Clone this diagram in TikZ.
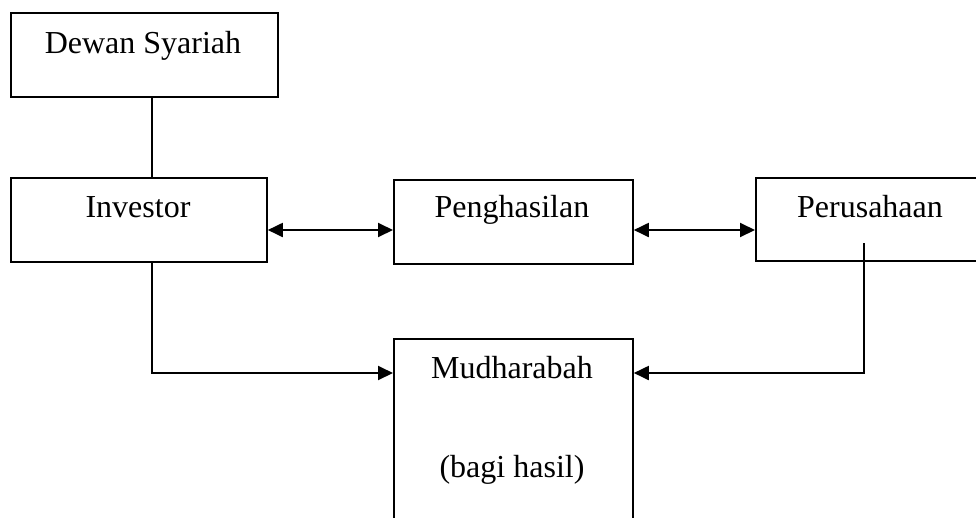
\documentclass[tikz,border=0pt]{standalone}
\usepackage{fontspec}
\setmainfont{Liberation Serif}
\usetikzlibrary{arrows.meta}
\begin{document}
\begin{tikzpicture}[x=1pt,y=-1pt,
  box/.style={draw, line width=1.8pt, inner sep=0pt, anchor=north west},
  lbl/.style={anchor=base, inner sep=0pt, font=\fontsize{32}{38}\selectfont},
  conn/.style={line width=1.9pt},
  tipr/.style={-{Triangle[length=15pt,width=14pt]}},
  tipb/.style={{Triangle[length=15pt,width=14pt]}-{Triangle[length=15pt,width=14pt]}}]
\useasboundingbox (0,0) rectangle (976,517);
\clip (0,0) rectangle (976,517);
% boxes
\node[box, minimum width=267pt, minimum height=84pt] (dewan) at (10,12) {};
\node[box, minimum width=256pt, minimum height=84pt] (inv) at (10,177) {};
\node[box, minimum width=239pt, minimum height=84pt] (peng) at (393,179) {};
\node[box, minimum width=250pt, minimum height=83pt] (peru) at (755,177) {};
\node[box, minimum width=239pt, minimum height=200pt] (mudh) at (393,338) {};
% labels
\node[lbl] (tdewan) at (143,53) {Dewan Syariah};
\node[lbl] (tinv) at (138,217) {Investor};
\node[lbl] (tpeng) at (512,217) {Penghasilan};
\node[lbl] (tperu) at (870,217) {Perusahaan};
\node[lbl] (tmudh) at (512,378) {Mudharabah};
\node[lbl] (tbagi) at (512,477) {(bagi hasil)};
% helper coordinates
\coordinate (xl) at (152,0);
\coordinate (xr) at (864,0);
\coordinate (ya) at (0,230);
\coordinate (yb) at (0,373);
\coordinate (pstart) at (864,243);
% connectors
\draw[conn] (dewan.south -| xl) -- (inv.north -| xl);
\draw[conn, tipb] (inv.east |- ya) -- (peng.west |- ya);
\draw[conn, tipb] (peng.east |- ya) -- (peru.west |- ya);
\draw[conn, tipr] (inv.south -| xl) -- (xl |- yb) -- (mudh.west |- yb);
\draw[conn, tipr] (pstart) -- (xr |- yb) -- (mudh.east |- yb);
\end{tikzpicture}
\end{document}
